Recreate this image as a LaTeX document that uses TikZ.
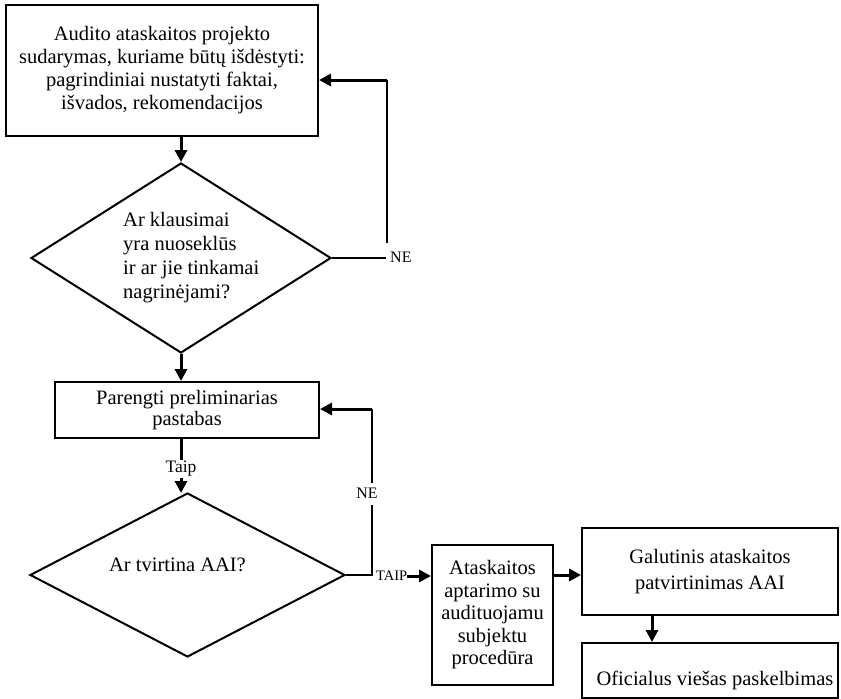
\documentclass[tikz,border=0pt]{standalone}
\usepackage{fontspec}
\setmainfont{Liberation Serif}
\usetikzlibrary{arrows.meta,shapes.geometric}
\begin{document}
\begin{tikzpicture}[x=1pt,y=-1pt,
  box/.style={draw, line width=2pt, inner sep=0pt, align=center, font=\fontsize{20.5}{23}\selectfont},
  dmd/.style={draw, diamond, line width=2pt, inner sep=0pt},
  dtxt/.style={inner sep=0pt, font=\fontsize{20.5}{24}\selectfont},
  arr/.style={line width=3pt, -{Triangle[length=12pt,width=12pt]}},
  thin/.style={line width=2pt},
  lbl/.style={font=\fontsize{16}{18}\selectfont, inner sep=0pt},
]
\useasboundingbox (0,0) rectangle (841,699);
% boxes
\node[box, minimum width=312pt, minimum height=131pt] (b1) at (162,70.5)
  {Audito ataskaitos projekto\\sudarymas, kuriame būtų išdėstyti:\\pagrindiniai nustatyti faktai,\\išvados, rekomendacijos};
\node[box, minimum width=264pt, minimum height=56pt, font=\fontsize{20.5}{21.5}\selectfont] (b2) at (187,410)
  {Parengti preliminarias\\pastabas};
\node[box, minimum width=121pt, minimum height=140pt, font=\fontsize{20.5}{22.5}\selectfont] (b3) at (492.5,615)
  {Ataskaitos\\aptarimo su\\audituojamu\\subjektu\\procedūra};
\node[box, minimum width=256pt, minimum height=87pt, font=\fontsize{20.5}{26}\selectfont] (b4) at (710,571.5)
  {Galutinis ataskaitos\\patvirtinimas AAI};
\node[box, minimum width=256pt, minimum height=55pt] (b5) at (710,670.5) {};
\node[inner sep=0pt, font=\fontsize{20.5}{23}\selectfont] (t5) at (715,680) {Oficialus viešas paskelbimas};
% diamonds
\node[dmd, minimum width=300pt, minimum height=190pt] (d1) at (181,258) {};
\node[dtxt, anchor=west, align=left] (t1) at (123,258)
  {Ar klausimai\\yra nuoseklūs\\ir ar jie tinkamai\\nagrinėjami?};
\node[dmd, minimum width=315pt, minimum height=164pt] (d2) at (187.5,575) {};
\node[dtxt] (t2) at (177.5,565) {Ar tvirtina AAI?};
% main arrows
\draw[arr] (d1.north |- b1.south) -- (d1.north);
\draw[arr] (d1.south) -- (d1.south |- b2.north);
\coordinate (top2) at (181,493);
\draw[arr] (top2 |- b2.south) -- (top2);
\node[lbl, fill=white, font=\fontsize{17.5}{19}\selectfont, inner sep=1pt] (taip1) at (181,469) {Taip};
% NE loop 1
\coordinate (c1a) at (386,258);
\coordinate (c1b) at (387,243);
\coordinate (c1c) at (387,80);
\draw[thin] (d1.east) -- (c1a);
\node[lbl, anchor=west] (ne1) at (390,257) {NE};
\draw[thin] (c1b) -- (c1c);
\draw[arr] (c1c) -- (b1.east |- c1c);
% NE loop 2
\coordinate (c2a) at (372,575);
\coordinate (c2b) at (372,505);
\coordinate (c2c) at (372,483);
\coordinate (c2d) at (372,409);
\draw[thin] (d2.east) -- (c2a) -- (c2b);
\node[lbl] (ne2) at (367,493) {NE};
\draw[thin] (c2c) -- (c2d);
\draw[arr] (c2d) -- (b2.east |- c2d);
% TAIP
\node[lbl, font=\fontsize{14.5}{16}\selectfont, anchor=west] (taip2) at (376,576) {TAIP};
\draw[arr] (taip2.east) -- (b3.west |- taip2.east);
% right side
\coordinate (r34) at (553,575);
\draw[arr] (b3.east |- r34) -- (b4.west |- r34);
\coordinate (r45) at (652,600);
\draw[arr] (b4.south -| r45) -- (b5.north -| r45);
\end{tikzpicture}
\end{document}
